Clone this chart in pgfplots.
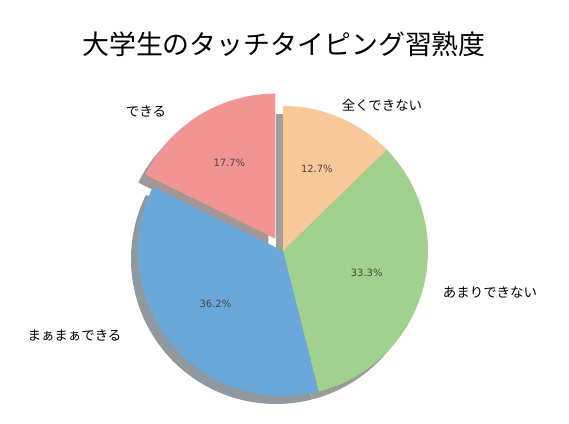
\documentclass[border=0pt]{standalone}
\usepackage{pgfplots}
\pgfplotsset{compat=1.18}
\usepackage{fontspec}
\setmainfont{Noto Sans CJK JP}
\newfontfamily\pctfont{DejaVu Sans}

\definecolor{cA}{RGB}{249,200,152}
\definecolor{cB}{RGB}{162,208,142}
\definecolor{cC}{RGB}{106,168,218}
\definecolor{cD}{RGB}{240,148,148}
\definecolor{sA}{RGB}{165,157,151}
\definecolor{sB}{RGB}{152,158,149}
\definecolor{sC}{RGB}{144,152,160}
\definecolor{sD}{RGB}{163,150,150}

% data (percent)
\def\vA{12.7}% 全くできない
\def\vB{33.3}% あまりできない
\def\vC{36.2}% まぁまぁできる
\def\vD{17.7}% できる

\def\cx{283}\def\cy{173}\def\R{145}
\pgfmathsetmacro\tot{\vA+\vB+\vC+\vD}
\pgfmathsetmacro\aA{90}
\pgfmathsetmacro\aB{\aA-360*\vA/\tot}
\pgfmathsetmacro\aC{\aB-360*\vB/\tot}
\pgfmathsetmacro\aD{\aC-360*\vC/\tot}
\pgfmathsetmacro\aE{\aD-360*\vD/\tot}
\pgfmathsetmacro\mA{(\aA+\aB)/2}
\pgfmathsetmacro\mB{(\aB+\aC)/2}
\pgfmathsetmacro\mC{(\aC+\aD)/2}
\pgfmathsetmacro\mD{(\aD+\aE)/2}
% exploded centre of slice D
\pgfmathsetmacro\dx{\cx+0.1*\R*cos(\mD)}
\pgfmathsetmacro\dy{\cy+0.1*\R*sin(\mD)}
% shadow centres
\def\sox{-7}\def\soy{-8}
\pgfmathsetmacro\scx{\cx+\sox}
\pgfmathsetmacro\scy{\cy+\soy}
\pgfmathsetmacro\sdx{\dx+\sox}
\pgfmathsetmacro\sdy{\dy+\soy}
% percent label positions
\pgfmathsetmacro\pAx{\cx+0.6*\R*cos(\mA)}\pgfmathsetmacro\pAy{\cy+0.6*\R*sin(\mA)+1.5}
\pgfmathsetmacro\pBx{\cx+0.6*\R*cos(\mB)}\pgfmathsetmacro\pBy{\cy+0.6*\R*sin(\mB)+1.5}
\pgfmathsetmacro\pCx{\cx+0.6*\R*cos(\mC)}\pgfmathsetmacro\pCy{\cy+0.6*\R*sin(\mC)+1.5}
\pgfmathsetmacro\pDx{\dx+0.6*\R*cos(\mD)}\pgfmathsetmacro\pDy{\dy+0.6*\R*sin(\mD)+1.5}

% slice: colour, start angle (high), end angle (low), centre x, centre y
\newcommand\pieslice[5]{%
  \addplot[draw=none, fill=#1, domain=#3:#2, samples=90, variable=\t]
    ({#4+\R*cos(\t)},{#5+\R*sin(\t)}) -- (axis cs:#4,#5) -- cycle;}

\begin{document}
\begin{tikzpicture}
\begin{axis}[
  width=569bp, height=424bp, scale only axis,
  xmin=0, xmax=569, ymin=0, ymax=424,
  hide axis, clip=false,
]
% shadows
\pieslice{sA}{\aA}{\aB}{\scx}{\scy}
\pieslice{sB}{\aB}{\aC}{\scx}{\scy}
\pieslice{sC}{\aC}{\aD}{\scx}{\scy}
\pieslice{sD}{\aD}{\aE}{\sdx}{\sdy}
% wedges
\pieslice{cA}{\aA}{\aB}{\cx}{\cy}
\pieslice{cB}{\aB}{\aC}{\cx}{\cy}
\pieslice{cC}{\aC}{\aD}{\cx}{\cy}
\pieslice{cD}{\aD}{\aE}{\dx}{\dy}

% percentages
\node[font=\pctfont\fontsize{10}{12}\selectfont, text=black!72, inner sep=0] at (axis cs:\pAx,\pAy) {12.7\%};
\node[font=\pctfont\fontsize{10}{12}\selectfont, text=black!72, inner sep=0] at (axis cs:\pBx,\pBy) {33.3\%};
\node[font=\pctfont\fontsize{10}{12}\selectfont, text=black!72, inner sep=0] at (axis cs:\pCx,\pCy) {36.2\%};
\node[font=\pctfont\fontsize{10}{12}\selectfont, text=black!72, inner sep=0] at (axis cs:\pDx,\pDy) {17.7\%};

% category labels
\node[font=\fontsize{13.5}{16}\selectfont, inner sep=0] at (axis cs:146,313) {できる};
\node[font=\fontsize{13.5}{16}\selectfont, inner sep=0] at (axis cs:382,319) {全くできない};
\node[font=\fontsize{13.5}{16}\selectfont, inner sep=0] at (axis cs:490,132) {あまりできない};
\node[font=\fontsize{13.5}{16}\selectfont, inner sep=0] at (axis cs:74.5,89) {まぁまぁできる};

% title
\node[font=\fontsize{27}{30}\selectfont, inner sep=0] at (axis cs:284,380) {大学生のタッチタイピング習熟度};
\end{axis}
\pgfresetboundingbox
\path (current axis.south west) rectangle (current axis.north east);
\end{tikzpicture}
\end{document}
